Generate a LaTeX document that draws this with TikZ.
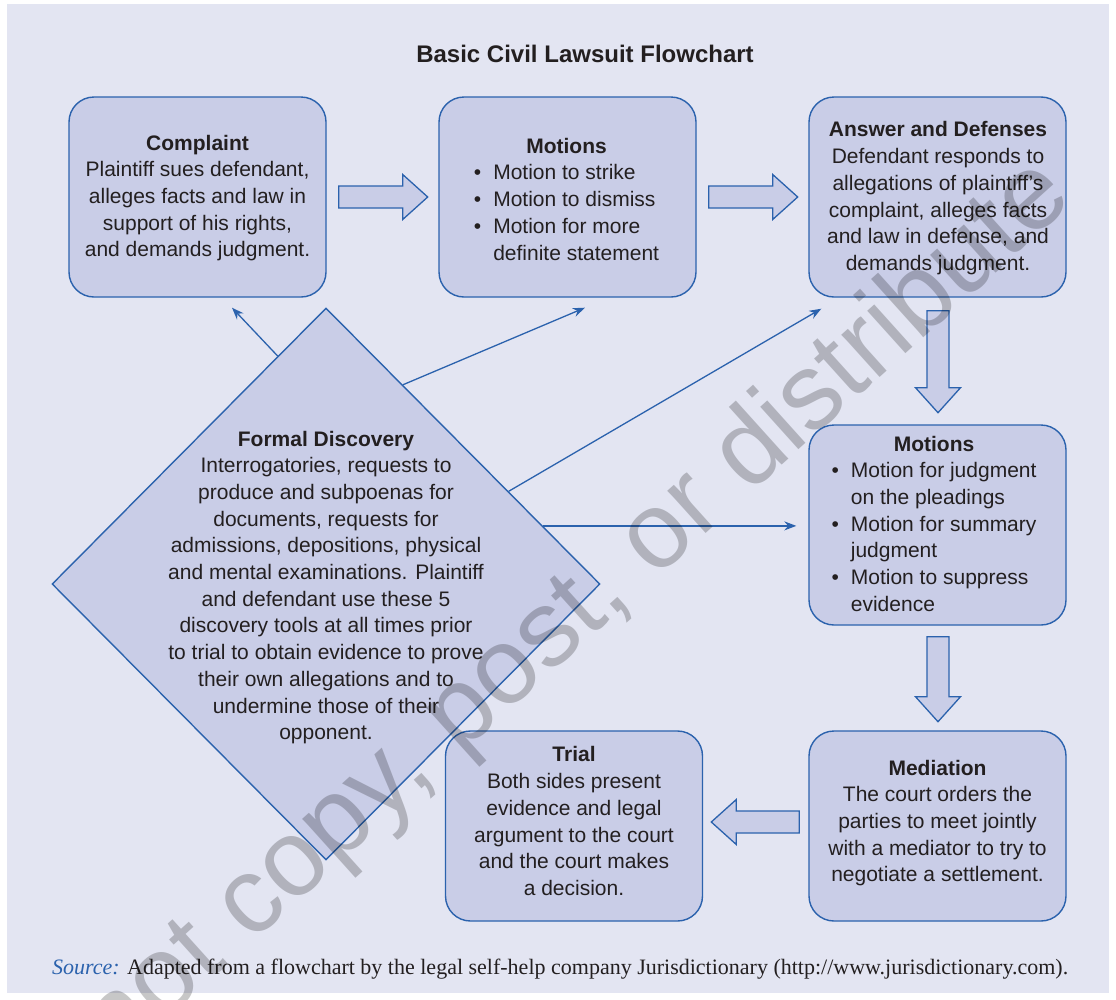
\documentclass[tikz,border=0pt]{standalone}
\usepackage{fontspec}
\setmainfont{Liberation Sans}
\newfontfamily\srcfont{Liberation Serif}
\usetikzlibrary{shapes.geometric,arrows.meta,calc}
\definecolor{panelbg}{HTML}{E3E5F2}
\definecolor{boxfill}{HTML}{C9CDE7}
\definecolor{edge}{HTML}{2B62AD}
\definecolor{ink}{HTML}{231F20}
\begin{document}
\begin{tikzpicture}[x=1pt,y=-1pt,
  box/.style={draw=edge, line width=1.4pt, fill=boxfill, rounded corners=25pt, minimum width=257pt, inner sep=0pt},
  txt/.style={inner sep=0pt, align=center, text=ink, font=\fontsize{21}{26.7}\selectfont},
  link/.style={draw=edge, line width=1.3pt, -{Stealth[length=12pt,width=9pt]}},
  barrowstyle/.style={draw=edge, line width=1.3pt, fill=boxfill, line join=miter},
  pics/barrow/.style={code={\path[barrowstyle] (0,-11) -- (#1-25,-11) -- (#1-25,-22.5) -- (#1,0) -- (#1-25,22.5) -- (#1-25,11) -- (0,11) -- cycle;}}
]
\useasboundingbox (0,0) rectangle (1116,999);
\fill[panelbg] (7,4) rectangle (1109,993);

\node[anchor=base, inner sep=0pt, text=ink, font=\fontsize{24}{28}\selectfont\bfseries] (title) at (585,62) {Basic Civil Lawsuit Flowchart};

% boxes
\node[box, minimum height=200pt] (comp) at (197.5,197) {};
\node[box, minimum height=200pt] (mota) at (567.5,197) {};
\node[box, minimum height=200pt] (answ) at (937.5,197) {};
\node[box, minimum height=200pt] (motb) at (937.5,525) {};
\node[box, minimum height=190pt] (medi) at (937.5,826) {};
\node[box, minimum height=190pt] (tria) at (574,826) {};
\node[diamond, draw=edge, line width=1.4pt, fill=boxfill, minimum width=548pt, minimum height=552pt, inner sep=0pt] (disc) at (326,584) {};

% texts
\node[txt] (compt) at (197.5,198) {\textbf{Complaint}\\Plaintiff sues defendant,\\alleges facts and law in\\support of his rights,\\and demands judgment.};
\node[txt] (motat) at (566.5,201.3) {\begin{tabular}{@{}l@{\hspace{12pt}}l@{}}\multicolumn{2}{c}{\textbf{Motions}}\\
\textbullet & Motion to strike\\
\textbullet & Motion to dismiss\\
\textbullet & Motion for more\\
 & definite statement\end{tabular}};
\node[txt] (answt) at (938,198.3) {\textbf{Answer and Defenses}\\Defendant responds to\\allegations of plaintiff’s\\complaint, alleges facts\\and law in defense, and\\demands judgment.};
\node[txt] (motbt) at (934,525.8) {\begin{tabular}{@{}l@{\hspace{12pt}}l@{}}\multicolumn{2}{c}{\textbf{Motions}}\\
\textbullet & Motion for judgment\\
 & on the pleadings\\
\textbullet & Motion for summary\\
 & judgment\\
\textbullet & Motion to suppress\\
 & evidence\end{tabular}};
\node[txt] (medit) at (937.5,823) {\textbf{Mediation}\\The court orders the\\parties to meet jointly\\with a mediator to try to\\negotiate a settlement.};
\node[txt] (triat) at (574,821.2) {\textbf{Trial}\\Both sides present\\evidence and legal\\argument to the court\\and the court makes\\a decision.};
\node[txt] (disct) at (326,587.5) {\textbf{Formal Discovery}\\Interrogatories, requests to\\produce and subpoenas for\\documents, requests for\\admissions, depositions, physical\\and mental examinations. Plaintiff\\and defendant use these 5\\discovery tools at all times prior\\to trial to obtain evidence to prove\\their own allegations and to\\undermine those of their\\opponent.};

% block arrows
\pic at ($(comp.east)+(12,0)$) {barrow=89};
\pic at ($(mota.east)+(12,0)$) {barrow=89};
\pic[rotate=-90] at ($(answ.south)+(0.5,13)$) {barrow=102};
\pic[rotate=-90] at ($(motb.south)+(0.5,11)$) {barrow=85};
\pic[rotate=180] at ($(medi.west)+(-9,-4)$) {barrow=88};

% thin arrows from discovery
\coordinate (sa) at ($(disc.north)!0.176!(disc.west)$);
\coordinate (ta) at ($(comp.south)+(34.5,10)$);
\coordinate (sb) at ($(disc.north)!0.28!(disc.east)$);
\coordinate (tb) at ($(mota.south)+(17.5,10)$);
\coordinate (sc) at ($(disc.north)!0.665!(disc.east)$);
\coordinate (tc) at ($(answ.south west)+(13,11)$);
\coordinate (sd) at ($(disc.north)!0.79!(disc.east)$);
\coordinate (td) at ($(sd -| motb.west)+(-12,0)$);
\draw[link] (sa) -- (ta);
\draw[link] (sb) -- (tb);
\draw[link] (sc) -- (tc);
\draw[link] (sd) -- (td);

% source line
\node[anchor=base west, inner sep=0pt, text=ink, font=\srcfont\fontsize{22}{26}\selectfont] (src) at (52,974) {\textcolor{edge}{\itshape Source:} Adapted from a flowchart by the legal self-help company Jurisdictionary (http://www.jurisdictionary.com).};

% watermark
\node[rotate=42, inner sep=0pt, text=black, text opacity=0.22, font=\fontsize{108}{120}\selectfont] (wmark) at (515,668) {Do not copy, post, or distribute};
\end{tikzpicture}
\end{document}
